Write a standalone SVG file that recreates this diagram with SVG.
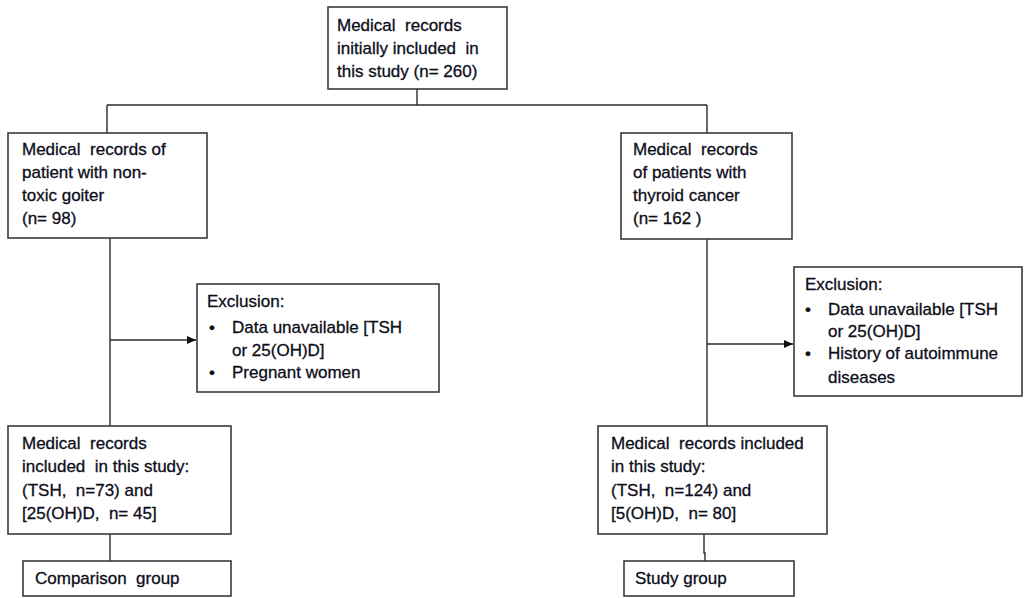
<svg xmlns="http://www.w3.org/2000/svg" width="1024" height="598" viewBox="0 0 1024 598" xml:space="preserve">
<style>
.box{fill:#ffffff;stroke:#3a3a3a;stroke-width:1.6}
.t{font-family:"Liberation Sans",Arial,sans-serif;font-size:17px;fill:#0d0d1a;stroke:#0d0d1a;stroke-width:0.3;white-space:pre}
.c{fill:none;stroke:#2a2a2a;stroke-width:1.4}
</style>
<defs>
<marker id="ah" markerWidth="10" markerHeight="10" refX="9" refY="5" orient="auto" markerUnits="userSpaceOnUse">
<path d="M0,1 L9,5 L0,9 Z" fill="#111"/>
</marker>
</defs>
<rect width="1024" height="598" fill="#ffffff"/>
<g id="connectors">
<path class="c" d="M417,89 V105"/>
<path class="c" d="M107,105 H707"/>
<path class="c" d="M107,105 V133"/>
<path class="c" d="M707,105 V133"/>
<path class="c" d="M110,238 V426"/>
<path class="c" d="M110,340 H196" marker-end="url(#ah)"/>
<path class="c" d="M110,534 V561"/>
<path class="c" d="M707,239 V426"/>
<path class="c" d="M707,344 H793" marker-end="url(#ah)"/>
<path class="c" d="M704,534 V553 H705 V561"/>
</g>
<g id="n-initial">
<rect class="box" x="328" y="7" width="179" height="82"/>
<text class="t" x="337" y="31">Medical  records</text>
<text class="t" x="337" y="54">initially included  in</text>
<text class="t" x="337" y="77">this study (n= 260)</text>
</g>
<g id="n-goiter">
<rect class="box" x="8" y="133" width="199" height="105"/>
<text class="t" x="22" y="155">Medical  records of</text>
<text class="t" x="22" y="178">patient with non-</text>
<text class="t" x="22" y="201">toxic goiter</text>
<text class="t" x="22" y="224">(n= 98)</text>
</g>
<g id="n-cancer">
<rect class="box" x="621" y="133" width="171" height="106"/>
<text class="t" x="633" y="155">Medical  records</text>
<text class="t" x="633" y="178">of patients with</text>
<text class="t" x="633" y="201">thyroid cancer</text>
<text class="t" x="633" y="224">(n= 162 )</text>
</g>
<g id="n-excl-left">
<rect class="box" x="197" y="284" width="242" height="108"/>
<text class="t" x="207" y="307">Exclusion:</text>
<text class="t" x="209" y="333">•</text>
<text class="t" x="232" y="333">Data unavailable [TSH</text>
<text class="t" x="232" y="356">or 25(OH)D]</text>
<text class="t" x="209" y="378">•</text>
<text class="t" x="232" y="378">Pregnant women</text>
</g>
<g id="n-excl-right">
<rect class="box" x="794" y="267" width="228" height="129"/>
<text class="t" x="805" y="290">Exclusion:</text>
<text class="t" x="805" y="315">•</text>
<text class="t" x="828" y="315">Data unavailable [TSH</text>
<text class="t" x="828" y="337">or 25(OH)D]</text>
<text class="t" x="805" y="359">•</text>
<text class="t" x="828" y="359">History of autoimmune</text>
<text class="t" x="828" y="383">diseases</text>
</g>
<g id="n-incl-left">
<rect class="box" x="8" y="426" width="223" height="108"/>
<text class="t" x="22" y="449">Medical  records</text>
<text class="t" x="22" y="472">included  in this study:</text>
<text class="t" x="22" y="496">(TSH,  n=73) and</text>
<text class="t" x="22" y="519">[25(OH)D,  n= 45]</text>
</g>
<g id="n-incl-right">
<rect class="box" x="598" y="426" width="229" height="108"/>
<text class="t" x="611" y="449">Medical  records included</text>
<text class="t" x="611" y="472">in this study:</text>
<text class="t" x="611" y="496">(TSH,  n=124) and</text>
<text class="t" x="611" y="519">[5(OH)D,  n= 80]</text>
</g>
<g id="n-comparison">
<rect class="box" x="23" y="561" width="208" height="35"/>
<text class="t" x="35" y="584">Comparison  group</text>
</g>
<g id="n-study">
<rect class="box" x="624" y="561" width="170" height="35"/>
<text class="t" x="635" y="584">Study group</text>
</g>
</svg>
